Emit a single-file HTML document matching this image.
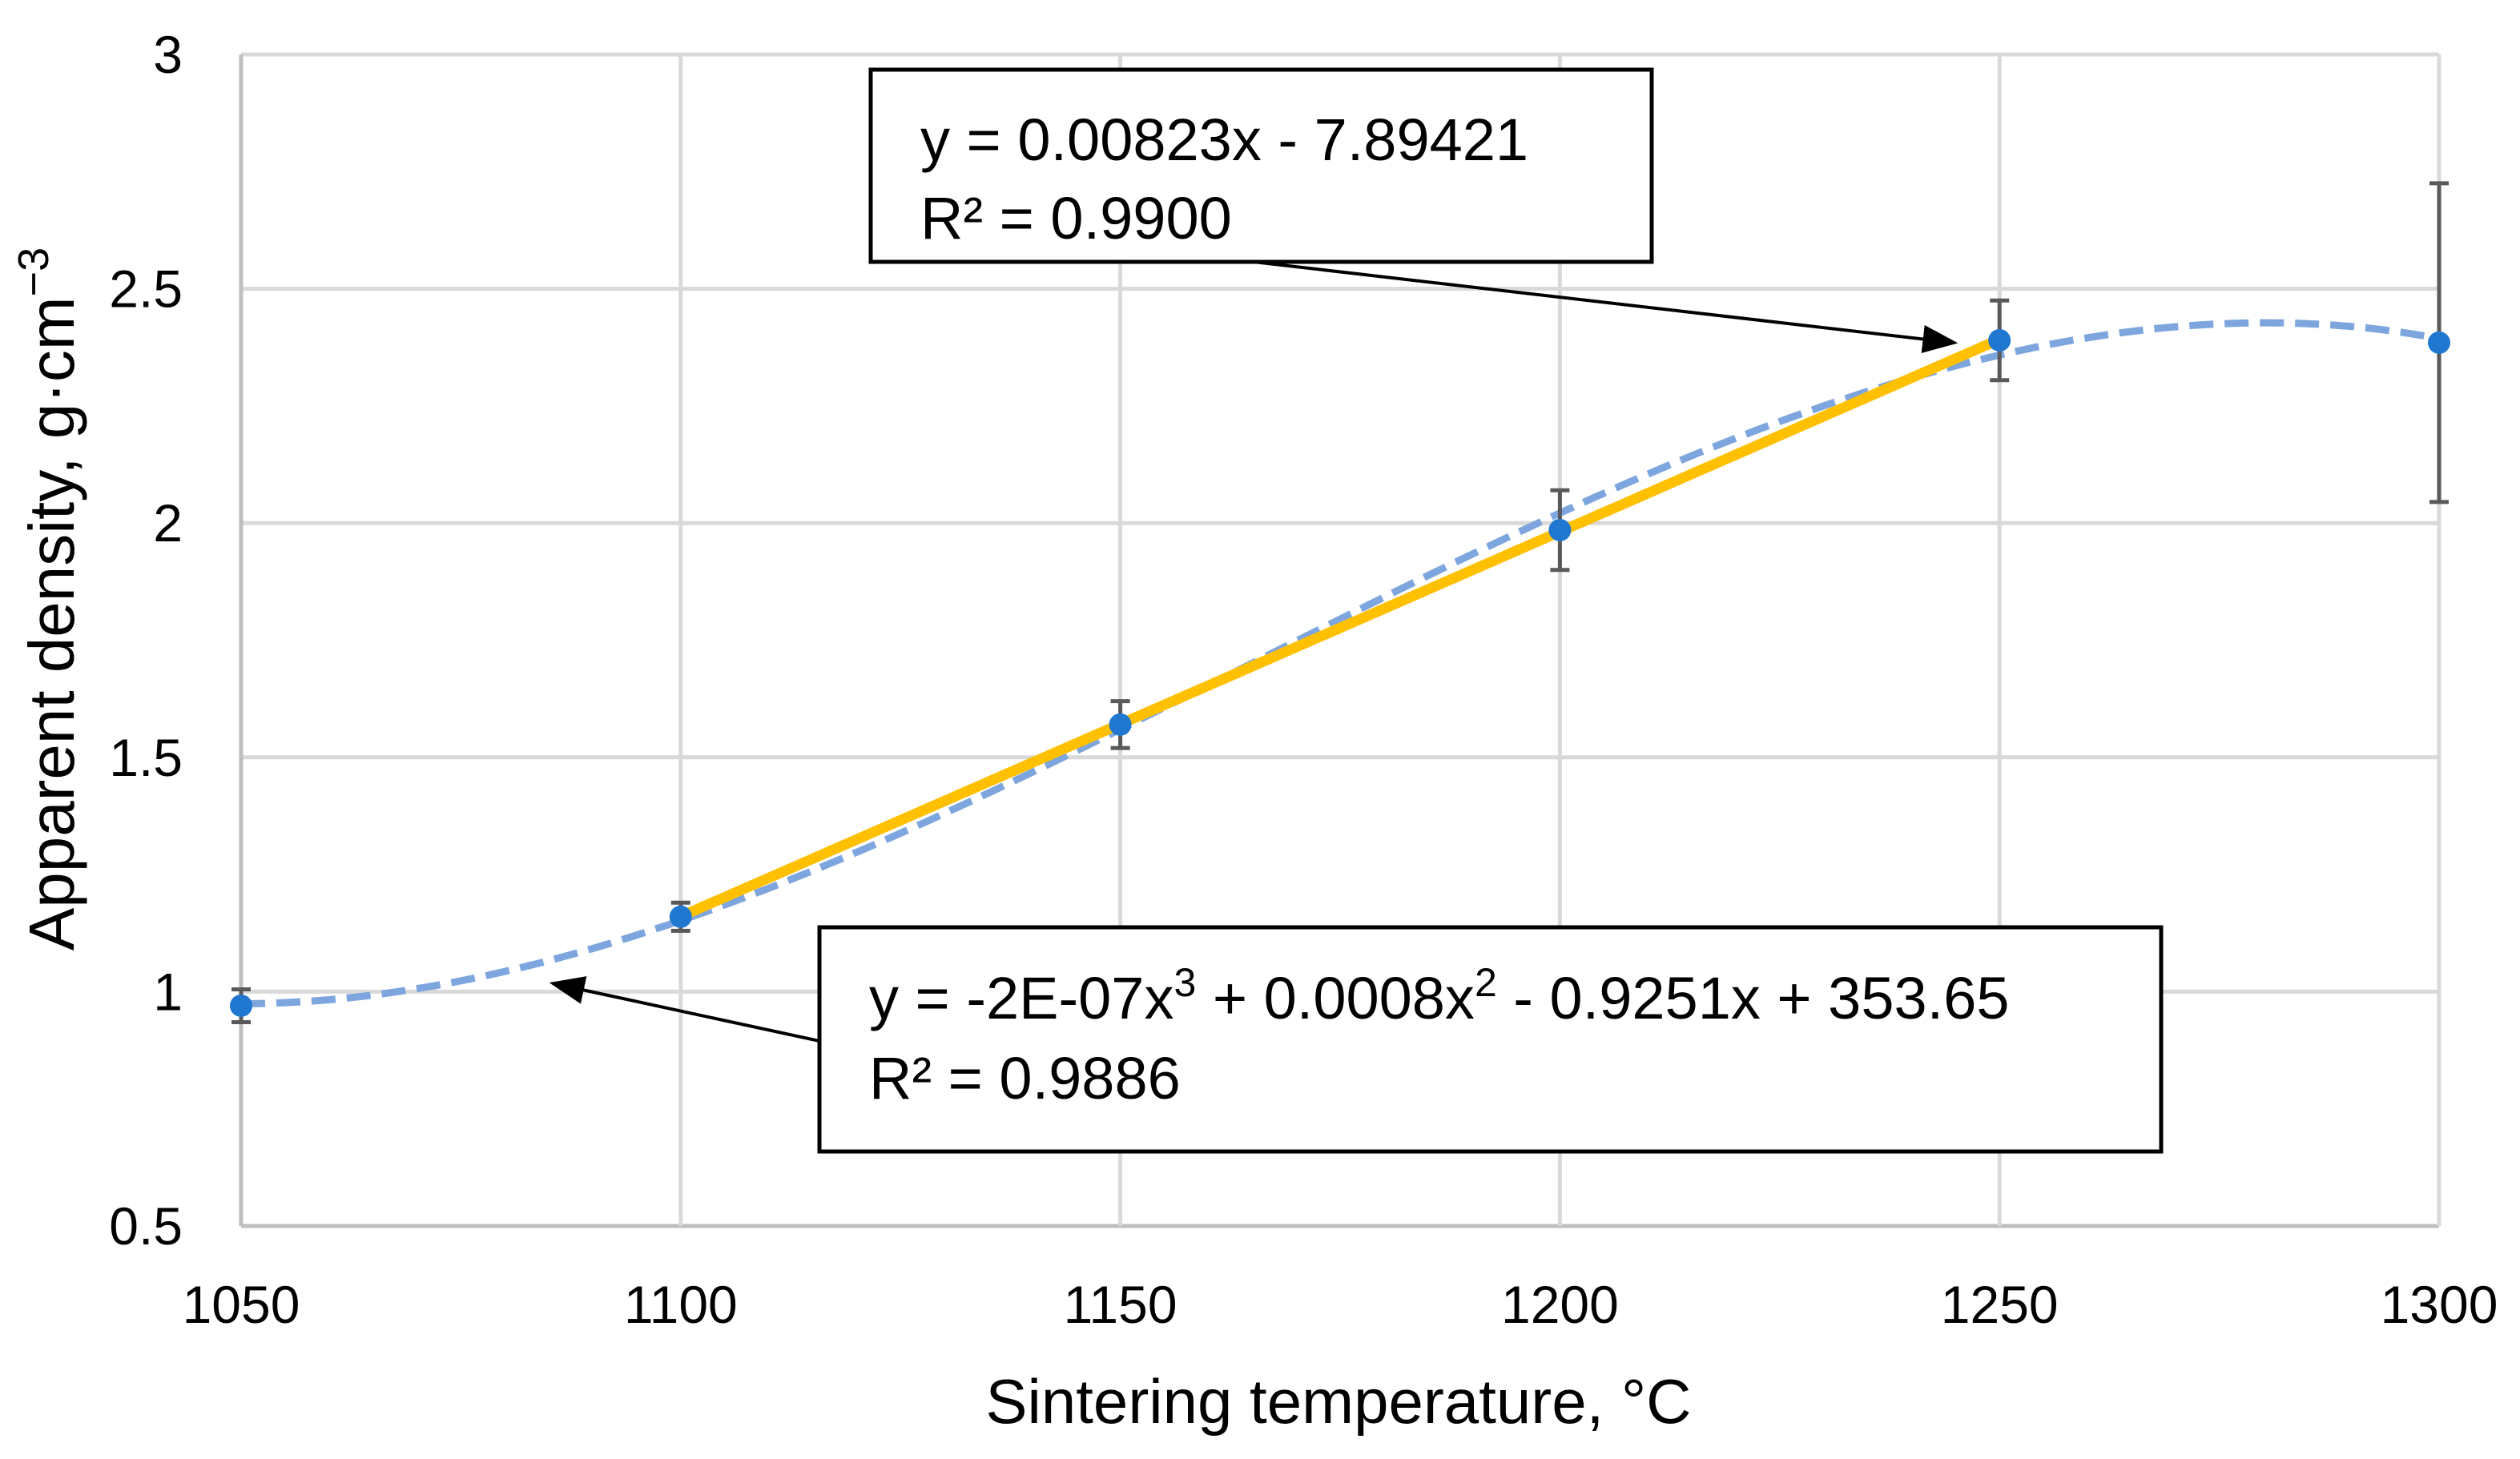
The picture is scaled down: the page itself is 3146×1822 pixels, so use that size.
<!DOCTYPE html>
<html><head><meta charset="utf-8"><style>
html,body{margin:0;padding:0;background:#fff}
svg{display:block;font-family:"Liberation Sans",sans-serif}
</style></head><body>
<svg id="c" width="3146" height="1822" viewBox="0 0 3146 1822"></svg>
<script>
const temps=[1050,1100,1150,1200,1250,1300];
const density=[0.97,1.16,1.57,1.985,2.39,2.385];
const errors=[0.035,0.03,0.05,0.085,0.085,0.34];
const xTicks=[1050,1100,1150,1200,1250,1300];
const yTicks=[0.5,1,1.5,2,2.5,3];
const linStart=1,linEnd=4;
const L=301,R=3045,T=68,B=1531;
const X=v=>L+(v-1050)/250*(R-L);
const Y=v=>B-(v-0.5)/2.5*(B-T);
const svg=document.getElementById('c');
const NS='http://www.w3.org/2000/svg';
function mk(tag,at,parent){const e=document.createElementNS(NS,tag);for(const k in at)e.setAttribute(k,at[k]);(parent||svg).appendChild(e);return e;}
const defs=mk('defs',{});
const mrk=mk('marker',{id:'ah',markerWidth:'44',markerHeight:'36',refX:'9',refY:'4',orient:'auto',markerUnits:'userSpaceOnUse',viewBox:'0 0 10 8'},defs);
mk('path',{d:'M0,0 L10,4 L0,8 Z',fill:'#000'},mrk);
yTicks.forEach(t=>{
 const g=mk('line',{x1:L,x2:R,y1:Y(t),y2:Y(t),stroke:t===0.5?'#bfbfbf':'#d9d9d9','stroke-width':5});
 
 
 const tx=mk('text',{x:228,y:Y(t)+23,'text-anchor':'end','font-size':66,fill:'#000'});
 tx.textContent=t;
 
 
});
xTicks.forEach(t=>{
 const g=mk('line',{x1:X(t),x2:X(t),y1:T,y2:B,stroke:t===1050?'#bfbfbf':'#d9d9d9','stroke-width':5});
 
 
 const tx=mk('text',{x:X(t),y:1652,'text-anchor':'middle','font-size':66,fill:'#000'});
 tx.textContent=t;
 
 
});
function solve(A,b){const n=b.length;for(let i=0;i<n;i++){let p=i;for(let r=i+1;r<n;r++)if(Math.abs(A[r][i])>Math.abs(A[p][i]))p=r;[A[i],A[p]]=[A[p],A[i]];[b[i],b[p]]=[b[p],b[i]];for(let r=i+1;r<n;r++){const f=A[r][i]/A[i][i];for(let c=i;c<n;c++)A[r][c]-=f*A[i][c];b[r]-=f*b[i];}}const x=Array(n).fill(0);for(let i=n-1;i>=0;i--){let s=b[i];for(let c=i+1;c<n;c++)s-=A[i][c]*x[c];x[i]=s/A[i][i];}return x;}
const u=temps.map(t=>(t-1175)/125);
const A=[],bb=[];for(let i=0;i<4;i++){A.push([]);for(let j=0;j<4;j++)A[i].push(u.reduce((s,v)=>s+Math.pow(v,i+j),0));bb.push(u.reduce((s,v,k)=>s+Math.pow(v,i)*density[k],0));}
const co=solve(A,bb);
let d='';for(let t=1050;t<=1300;t+=2){const v=(t-1175)/125;const y=co[0]+co[1]*v+co[2]*v*v+co[3]*v*v*v;d+=(t===1050?'M':'L')+X(t).toFixed(1)+','+Y(y).toFixed(1);}
const poly=mk('path',{d:d,fill:'none',stroke:'#7ea6de','stroke-width':9,'stroke-dasharray':'30,14'});


const xs=temps.slice(linStart,linEnd+1),ys=density.slice(linStart,linEnd+1);
const mx=xs.reduce((a,b)=>a+b)/xs.length,my=ys.reduce((a,b)=>a+b)/ys.length;
let sxy=0,sxx=0;xs.forEach((x,i)=>{sxy+=(x-mx)*(ys[i]-my);sxx+=(x-mx)*(x-mx);});
const sl=sxy/sxx,ic=my-sl*mx;
const lin=mk('line',{x1:X(xs[0]),y1:Y(sl*xs[0]+ic),x2:X(xs[xs.length-1]),y2:Y(sl*xs[xs.length-1]+ic),stroke:'#ffc000','stroke-width':13});


temps.forEach((t,i)=>{
 const x=X(t),y1=Y(density[i]+errors[i]),y2=Y(density[i]-errors[i]);
 const g=mk('path',{d:`M${x},${y1}V${y2}M${x-12},${y1}H${x+12}M${x-12},${y2}H${x+12}`,stroke:'#595959','stroke-width':5,fill:'none'});
 
 
});
temps.forEach((t,i)=>{
 const c=mk('circle',{cx:X(t),cy:Y(density[i]),r:14,fill:'#1f77d0'});
 
 
});
const b1=mk('rect',{x:1087,y:87,width:975,height:240,fill:'#fff',stroke:'#000','stroke-width':5});


const t1=mk('text',{x:1149,y:200,'font-size':74});t1.textContent='y = 0.00823x - 7.89421';


const t2=mk('text',{x:1149,y:298,'font-size':74});t2.textContent='R² = 0.9900';


const b2=mk('rect',{x:1023,y:1158,width:1675,height:280,fill:'#fff',stroke:'#000','stroke-width':5});


const t3=mk('text',{x:1085,y:1272,'font-size':74});t3.innerHTML='y = -2E-07x<tspan font-size="50" dy="-28">3</tspan><tspan dy="28"> + 0.0008x</tspan><tspan font-size="50" dy="-28">2</tspan><tspan dy="28"> - 0.9251x + 353.65</tspan>';


const t4=mk('text',{x:1085,y:1372,'font-size':74});t4.textContent='R² = 0.9886';


const a1=mk('line',{x1:1565,y1:327,x2:2440,y2:428,stroke:'#000','stroke-width':4,'marker-end':'url(#ah)'});


const a2=mk('line',{x1:1023,y1:1300,x2:690,y2:1228,stroke:'#000','stroke-width':4,'marker-end':'url(#ah)'});


const xt=mk('text',{x:1671,y:1777,'text-anchor':'middle','font-size':78});xt.textContent='Sintering temperature, °C';


const yt=mk('text',{x:0,y:0,'text-anchor':'middle','font-size':80,transform:'translate(92,748) rotate(-90)'});
yt.innerHTML='Apparent density, g·cm<tspan font-size="54" dy="-32">−3</tspan>';


</script>
</body></html>
